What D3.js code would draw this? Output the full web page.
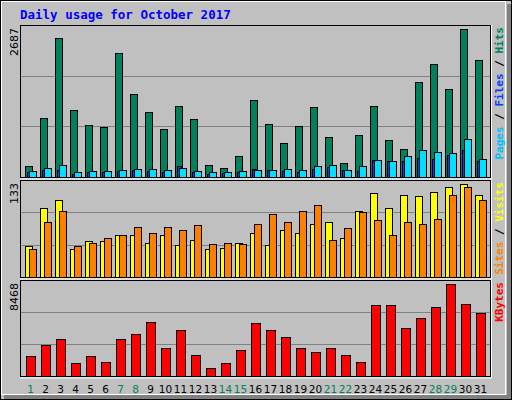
<!DOCTYPE html><html><head><script src="https://cdn.jsdelivr.net/npm/d3@7"></script>
<style>body{margin:0;background:#fff}</style></head><body><svg id="c" width="512" height="400"></svg>
<script>
const days=d3.range(1,32);
const weekends=[1,7,8,14,15,21,22,28,29];
const hits=[194,1043,2457,1184,919,884,2192,1467,1149,848,1255,1025,212,159,371,1361,937,601,902,1237,707,247,742,1255,654,495,1679,1998,1556,2616,2068];
const files=[106,159,212,88,106,106,124,141,141,124,159,106,88,88,106,124,124,141,124,194,212,124,194,300,283,371,477,442,424,672,318];
const pages=[83,118,118,48,83,83,100,118,100,83,189,83,48,65,83,135,118,100,83,135,171,118,100,295,277,277,330,312,383,472,277];
const visits=[42,94,106,38,49,49,57,57,47,57,44,51,39,40,46,61,44,65,61,73,76,54,91,115,95,113,111,116,123,127,112];
const sites=[39,75,91,43,47,54,58,68,60,68,65,71,45,47,45,72,86,75,91,99,51,67,89,78,57,75,72,79,112,124,106];
const kbytes=[1723,2704,3238,1188,1723,1278,3238,3684,4754,2436,4041,1812,743,1188,2258,4665,4041,3417,2436,2080,2436,1812,1278,6269,6269,4219,5110,6091,8141,6358,5556];
const maxHits=2687,maxVisits=133,maxKB=8468;
const svg=d3.select("#c");
svg.append("rect").attr("x",0).attr("y",0).attr("width",512).attr("height",400).attr("fill","#c0c0c0");
svg.append("rect").attr("x",0.5).attr("y",0.5).attr("width",511).attr("height",399).attr("fill","none").attr("stroke","#000");
svg.append("rect").attr("x",1.5).attr("y",1.5).attr("width",504).attr("height",393).attr("fill","none").attr("stroke","#fff");
svg.append("rect").attr("x",507).attr("y",4).attr("width",4).attr("height",395).attr("fill","#808080");
svg.append("rect").attr("x",4).attr("y",395).attr("width",507).attr("height",4).attr("fill","#808080");
svg.append("text").attr("x",20).attr("y",19).text("Daily usage for October 2017").attr("fill","#0000ff").attr("font-family","DejaVu Sans Mono").attr("font-weight","bold").attr("font-size",12.5);
const x=d3.scaleLinear().domain([1,32]).range([25,490]);
function panel(top,bot,max,label,series,legend){
  const y=d3.scaleLinear().domain([0,max]).range([bot,top]);
  svg.append("rect").attr("x",20.5).attr("y",top+0.5).attr("width",470).attr("height",bot-top).attr("fill","none").attr("stroke","#000");
  svg.append("line").attr("x1",20).attr("x2",492).attr("y1",bot+2).attr("y2",bot+2).attr("stroke","#fff");
  svg.append("line").attr("x1",491.5).attr("x2",491.5).attr("y1",top).attr("y2",bot+2).attr("stroke","#fff");
  [max/3,2*max/3].forEach(v=>svg.append("line").attr("x1",21).attr("x2",490).attr("y1",Math.round(y(v))+0.5).attr("y2",Math.round(y(v))+0.5).attr("stroke","#808080"));
  series.forEach(s=>{
    svg.append("g").selectAll("rect").data(s.data).join("rect")
      .attr("x",(d,i)=>x(days[i])+s.off+0.5).attr("width",s.w)
      .attr("y",d=>Math.round(y(d))+0.5).attr("height",d=>Math.max(0,bot-Math.round(y(d))))
      .attr("fill",s.color).attr("stroke","#000");
  });
  svg.append("text").attr("transform",`translate(18,${top+3}) rotate(-90)`).attr("text-anchor","end").text(label).attr("font-family","DejaVu Sans").attr("font-size",11);
  const t=svg.append("text").attr("transform",`translate(503,${top+2}) rotate(-90)`).attr("text-anchor","end").attr("font-family","DejaVu Sans Mono").attr("font-weight","bold").attr("font-size",11);
  legend.forEach(l=>t.append("tspan").text(l[0]).attr("fill",l[1]));
}
panel(25,177,maxHits,"2687",[{data:hits,color:"#00805c",off:0,w:7},{data:pages,color:"#0040ff",off:2,w:4},{data:files,color:"#00e0ff",off:4,w:7}],
  [["Pages","#00c0ff"],[" / ","#000"],["Files","#0040ff"],[" / ","#000"],["Hits","#00805c"]]);
panel(180,277,maxVisits,"133",[{data:visits,color:"#ffff00",off:0,w:7},{data:sites,color:"#ff8000",off:4,w:7}],
  [["Sites","#ff8000"],[" / ","#000"],["Visits","#ffff00"]]);
panel(280,376,maxKB,"8468",[{data:kbytes,color:"#ff0000",off:1,w:9}],[["KBytes","#ff0000"]]);
svg.append("g").selectAll("text").data(days).join("text").attr("x",d=>x(d)+5.5).attr("y",393).attr("text-anchor","middle")
 .text(d=>d).attr("fill",d=>weekends.includes(d)?"#00805c":"#000").attr("font-family","DejaVu Sans").attr("font-size",10.5);
</script></body></html>
